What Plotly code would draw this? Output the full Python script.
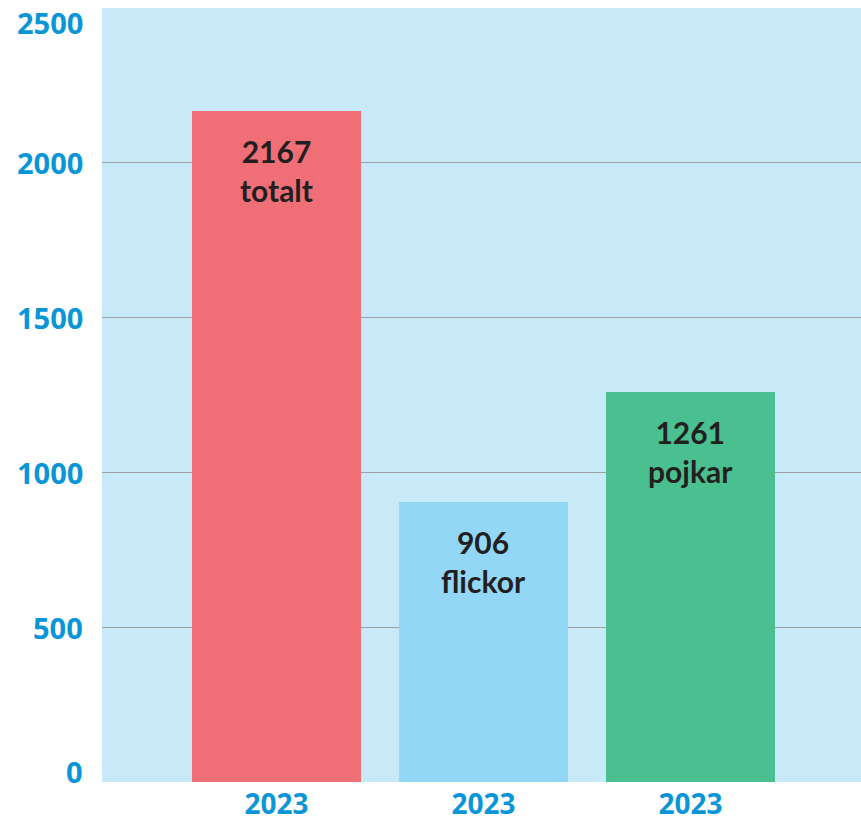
import plotly.graph_objects as go

# data
BAR_POS = [0, 1, 2]
BAR_YEARS = ["2023", "2023", "2023"]
BAR_VALUES = [2167, 906, 1261]
BAR_NAMES = ["totalt", "flickor", "pojkar"]
BAR_COLORS = ["#F06F77", "#92D8F6", "#4ABF8F"]
Y_TICKS = [0, 500, 1000, 1500, 2000, 2500]

BLUE = "#0A96D6"
DARK = "#231F20"
BG = "#C8E9F8"
FONT = "Lato"
TICK_FONT = "Open Sans"

fig = go.Figure()
fig.add_trace(go.Bar(
    x=BAR_POS, y=BAR_VALUES,
    width=0.816,
    marker=dict(color=BAR_COLORS, line=dict(width=0)),
    hoverinfo="skip",
))

# value labels inside the bars
for x, v, name in zip(BAR_POS, BAR_VALUES, BAR_NAMES):
    fig.add_annotation(
        x=x, y=v, xref="x", yref="y",
        text=f"<b>{v}<br>{name}</b>",
        showarrow=False, yanchor="top", yshift=-20,
        font=dict(family=FONT, size=30, color=DARK, weight=900),
    )

# y tick labels (the end ones are pulled inside the figure)
for t in Y_TICKS:
    shift = 0
    if t == Y_TICKS[0]:
        shift = 11
    elif t == Y_TICKS[-1]:
        shift = -14
    fig.add_annotation(
        x=0, y=t, xref="paper", yref="y",
        text=f"<b>{t}</b>",
        showarrow=False, xanchor="right", xshift=-17, yshift=shift,
        font=dict(family=TICK_FONT, size=29, color=BLUE),
    )

fig.update_layout(
    width=861, height=821,
    margin=dict(l=102, r=0, t=8, b=39),
    paper_bgcolor="white",
    plot_bgcolor=BG,
    showlegend=False,
    bargap=0,
)
fig.update_xaxes(
    range=[-0.843, 2.824],
    tickvals=BAR_POS, ticktext=[f"<b>{y}</b>" for y in BAR_YEARS],
    tickfont=dict(family=TICK_FONT, size=28, color=BLUE),
    ticklabelstandoff=3, automargin=False,
    showgrid=False, zeroline=False, showline=False, ticks="",
)
fig.update_yaxes(
    range=[0, 2500], automargin=False,
    tickvals=Y_TICKS[1:-1], showticklabels=False,
    showgrid=True, gridcolor="#A0A0A0", gridwidth=1.3,
    zeroline=False, showline=False, ticks="",
)

fig.write_html(
    "out.html",
    config={"displayModeBar": False},
    post_script="document.body.style.margin='0';document.body.style.overflow='hidden';",
)
